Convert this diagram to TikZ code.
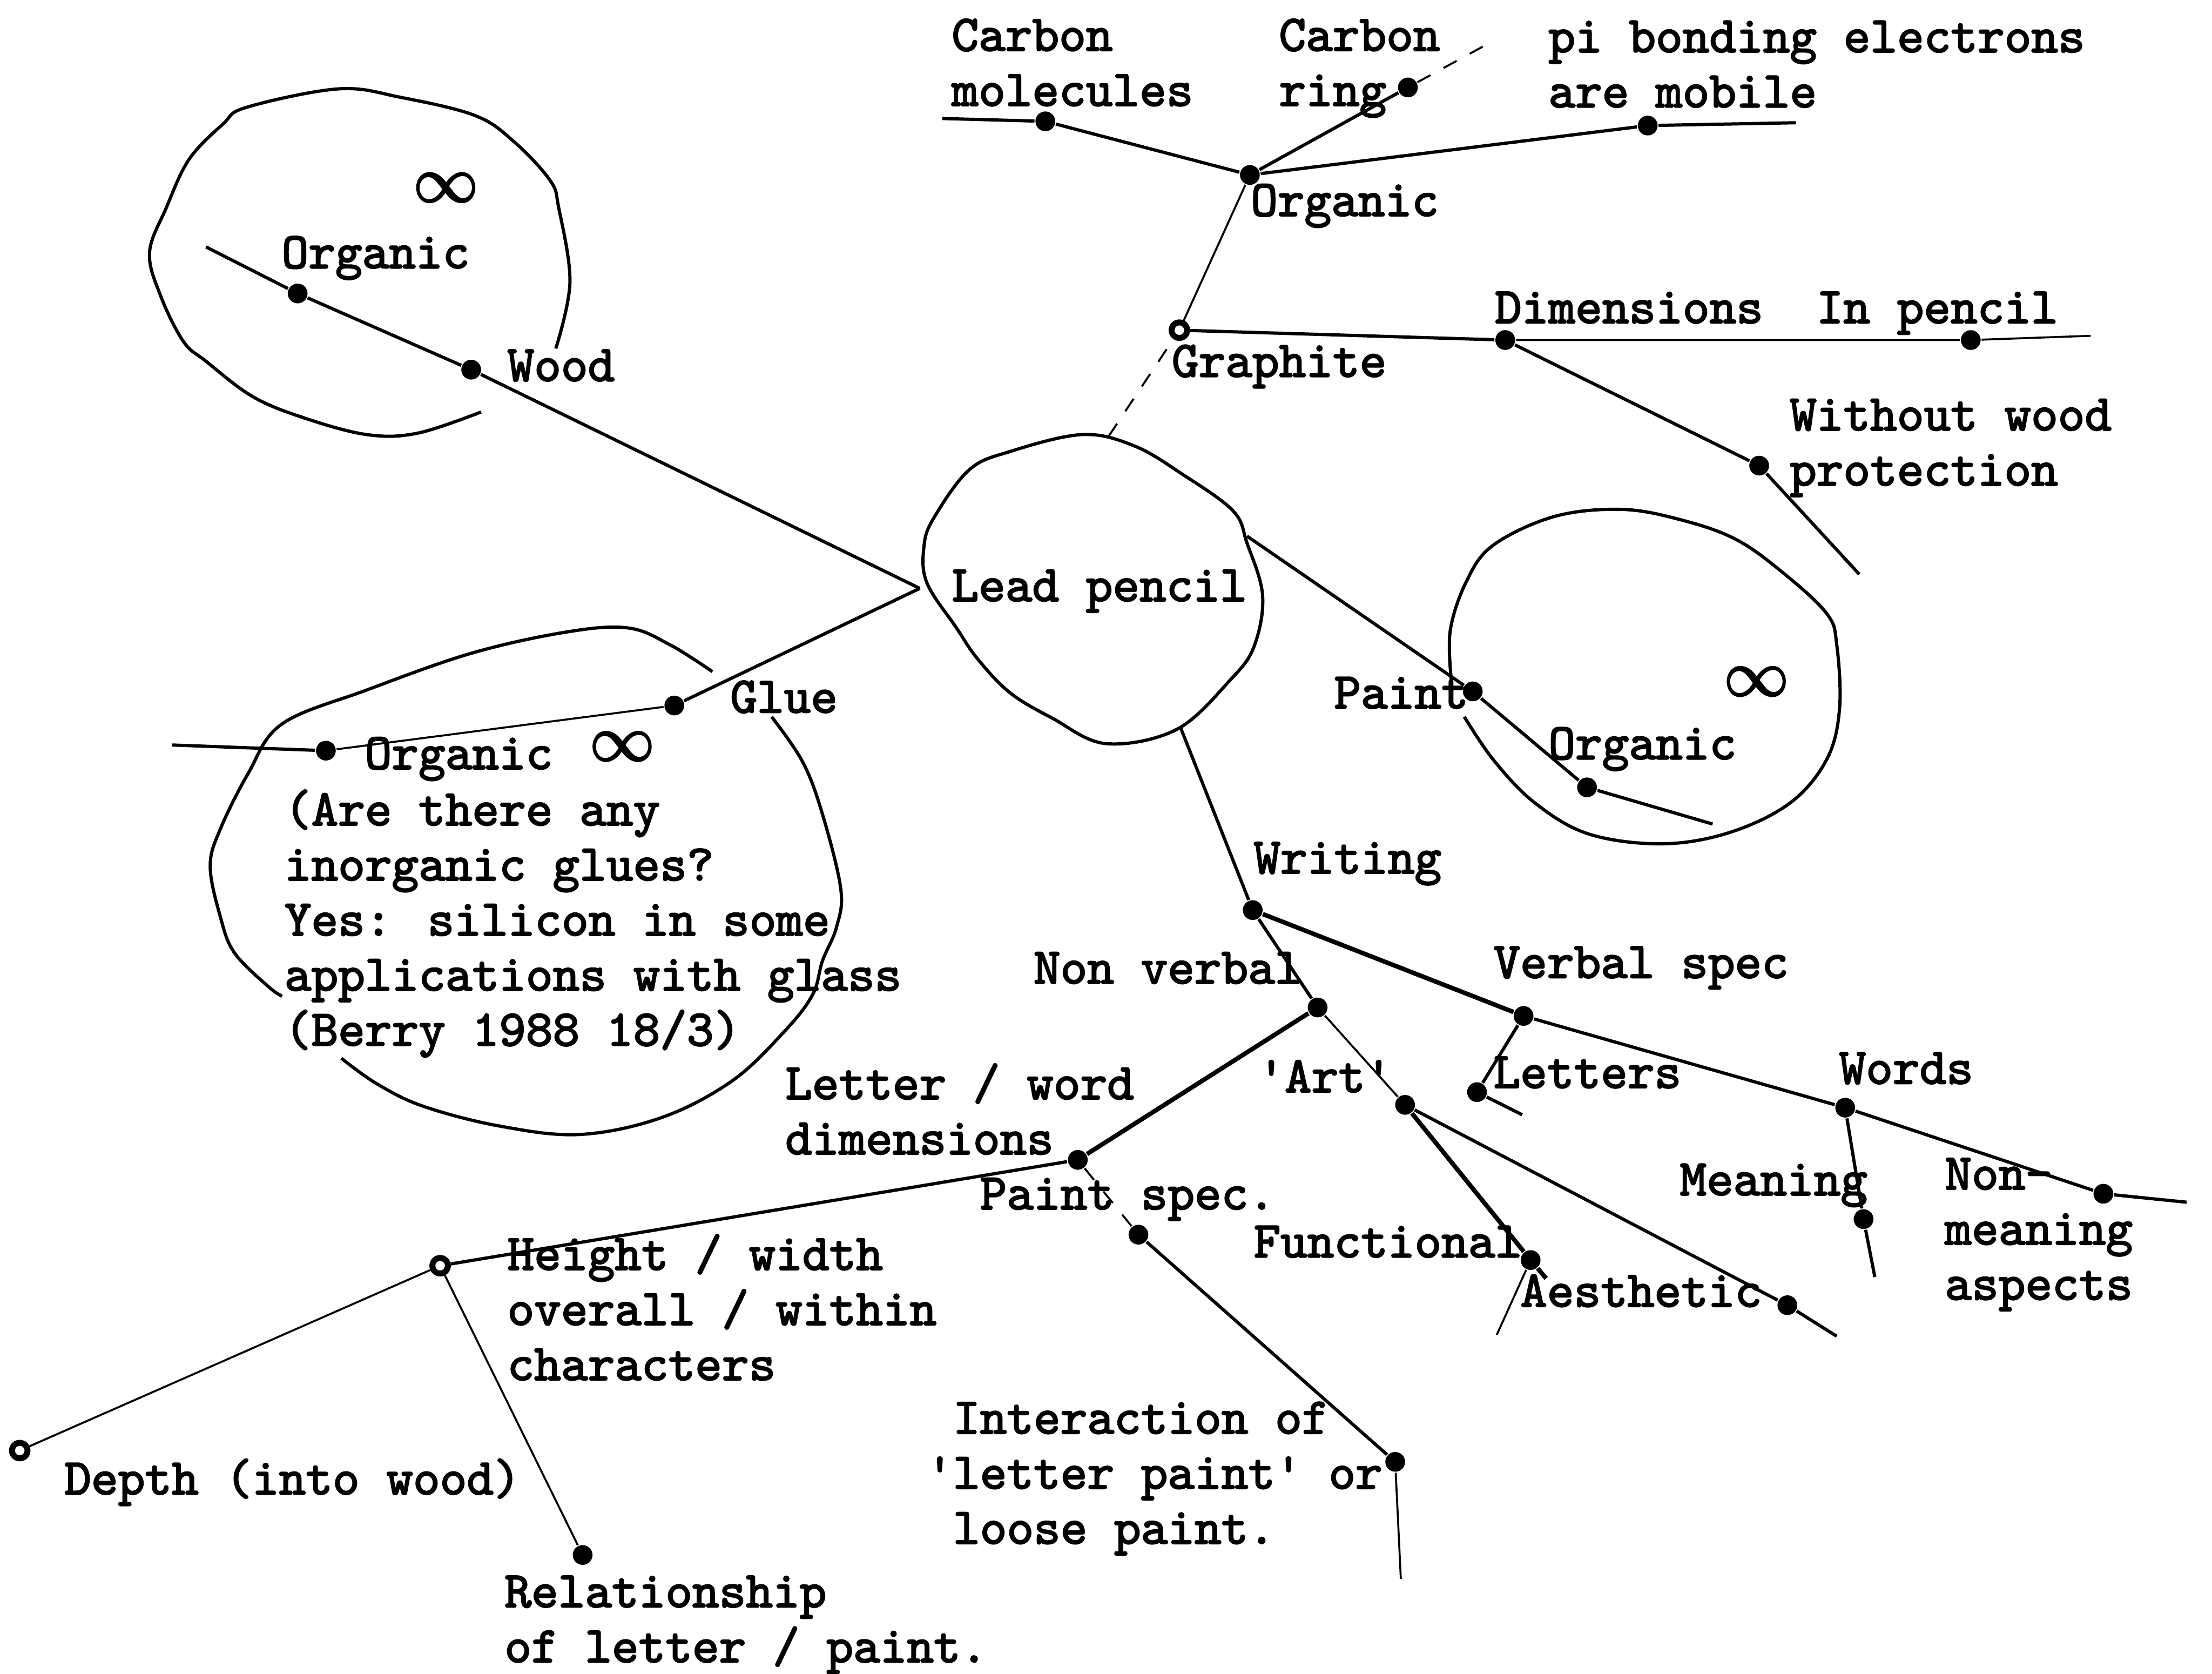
\documentclass[tikz,border=0pt]{standalone}
\usepackage{tikz}

\font\twf="[lmmono10-regular.otf]:embolden=2.6" at 10.3pt
\font\lemf="[latinmodern-math.otf]:embolden=3" at 13pt
\newcommand\twfont{\fontsize{10.3}{11.1}\selectfont\twf}

\begin{document}
\begin{tikzpicture}[x=0.01cm,y=-0.01cm,
  lbl/.style={anchor=base west,inner sep=0pt,align=left,font=\twfont},
  dot/.style={circle,fill,inner sep=0pt,minimum size=1.4mm},
  ring/.style={circle,draw,line width=1.2pt,fill=white,inner sep=0pt,minimum size=1.1mm},
  lemn/.style={inner sep=0pt,font=\lemf},
  link/.style={line width=0.65pt},
  faint/.style={line width=0.4pt},
  heavy/.style={line width=0.9pt},
  rim/.style={line width=0.65pt,line join=round}]
  \fill[white] (0,0) rectangle (1568,1186);
  \useasboundingbox (0,0) rectangle (1568,1186);

  % hand drawn rims
  \draw[rim] plot[smooth cycle,tension=0.6] coordinates {(767,308) (716,320) (687,333) (662,367)
    (655,387) (657,413) (678,445) (693,467) (716,491) (746,509) (784,527) (834,517) (872,482)
    (889,458) (895,422) (884,385) (874,362) (838,336) (804,316)};
  \draw[rim] plot[smooth,tension=0.6] coordinates {(394,247) (404,200) (396,147) (390,128) (365,101)
    (337,82) (284,69) (240,63) (175,76) (158,88) (134,113) (118,147) (106,179) (114,210) (130,242)
    (146,256) (179,281) (215,296) (260,308) (296,307) (341,292)};
  \draw[rim] plot[smooth,tension=0.6] coordinates {(1038,508) (1059,539) (1088,569) (1126,591)
    (1178,598) (1226,590) (1269,569) (1295,538) (1304,502) (1302,457) (1295,435) (1264,406)
    (1230,382) (1190,368) (1149,361) (1102,366) (1059,386) (1040,411) (1028,447) (1029,484)};
  \draw[rim] plot[smooth,tension=0.6] coordinates {(505,476) (475,457) (445,445) (401,448) (334,463)
    (260,489) (200,513) (176,548) (156,588) (149,614) (156,649) (166,675) (190,699) (200,706)};
  \draw[rim] plot[smooth,tension=0.6] coordinates {(547,508) (569,540) (583,577) (596,630) (593,657)
    (583,681) (576,705) (556,731) (519,766) (469,792) (411,804) (354,798) (300,784) (267,768) (242,750)};

  \node[lemn] (lemn1) at (316,133) {\char"221E};
  \node[lemn] (lemn2) at (1245,483) {\char"221E};
  \node[lemn] (lemn3) at (441,529) {\char"221E};

  % where the branches meet the pencil
  \coordinate (pw) at (652,417);
  \coordinate (pg) at (786,309);
  \coordinate (pp) at (884,380);
  \coordinate (pwr) at (837,516);

  % wood
  \coordinate (wtail) at (146,175);
  \node[dot] (worg) at (211,208) {};
  \node[dot] (wood) at (334,262) {};
  \draw[link] (wtail) -- (worg) -- (wood) -- (pw);

  % glue
  \node[dot] (glue) at (478,500) {};
  \node[dot] (gorg) at (231,532) {};
  \coordinate (gtail) at (122,528);
  \draw[link] (pw) -- (glue);
  \draw[faint] (glue) -- (gorg);
  \draw[link] (gorg) -- (gtail);

  % graphite
  \node[ring] (graph) at (836,234) {};
  \node[dot] (torg) at (886,124) {};
  \node[dot] (cmol) at (741,86) {};
  \coordinate (cmolend) at (668,84);
  \node[dot] (cring) at (998,62) {};
  \coordinate (cringend) at (1053,32);
  \node[dot] (pib) at (1168,89) {};
  \coordinate (pibend) at (1273,87);
  \node[dot] (dims) at (1067,241) {};
  \node[dot] (inpen) at (1397,241) {};
  \coordinate (inpenend) at (1482,238);
  \node[dot] (wowp) at (1247,330) {};
  \coordinate (wowpend) at (1318,407);
  \draw[faint,dashed] (pg) -- (graph);
  \draw[faint] (graph) -- (torg);
  \draw[link] (torg) -- (cmol) -- (cmolend);
  \draw[link] (torg) -- (cring);
  \draw[faint,dashed] (cring) -- (cringend);
  \draw[link] (torg) -- (pib) -- (pibend);
  \draw[link] (graph) -- (dims);
  \draw[faint] (dims) -- (inpen) -- (inpenend);
  \draw[link] (dims) -- (wowp) -- (wowpend);

  % paint
  \node[dot] (paint) at (1044,490) {};
  \node[dot] (porg) at (1125,558) {};
  \coordinate (porgend) at (1214,584);
  \draw[link] (pp) -- (paint) -- (porg) -- (porgend);

  % writing
  \node[dot] (wri) at (888,645) {};
  \node[dot] (nonv) at (934,714) {};
  \node[dot] (art) at (996,783) {};
  \node[dot] (func) at (1085,893) {};
  \coordinate (funcend) at (1096,906);
  \coordinate (funcdn) at (1061,946);
  \node[dot] (aest) at (1267,925) {};
  \coordinate (aestend) at (1302,947);
  \node[dot] (verb) at (1080,720) {};
  \node[dot] (words) at (1308,785) {};
  \node[dot] (nonm) at (1491,846) {};
  \coordinate (nonmend) at (1550,852);
  \node[dot] (lett) at (1047,774) {};
  \coordinate (lettend) at (1079,790);
  \node[dot] (mean) at (1321,864) {};
  \coordinate (meanend) at (1329,905);
  \node[dot] (lwd) at (764,822) {};
  \node[dot] (pspec) at (807,875) {};
  \node[dot] (inter) at (989,1036) {};
  \coordinate (interend) at (993,1119);
  \node[ring] (hw) at (312,897) {};
  \node[ring] (depth) at (14,1028) {};
  \node[dot] (rel) at (413,1102) {};
  \draw[link] (pwr) -- (wri) -- (nonv);
  \draw[faint] (nonv) -- (art);
  \draw[heavy] (art) -- (func) -- (funcend);
  \draw[faint] (func) -- (funcdn);
  \draw[link] (art) -- (aest) -- (aestend);
  \draw[heavy] (wri) -- (verb);
  \draw[link] (verb) -- (words) -- (nonm) -- (nonmend);
  \draw[link] (verb) -- (lett) -- (lettend);
  \draw[link] (words) -- (mean) -- (meanend);
  \draw[heavy] (nonv) -- (lwd);
  \draw[faint,dashed] (lwd) -- (pspec);
  \draw[link] (pspec) -- (inter);
  \draw[faint] (inter) -- (interend);
  \draw[link] (lwd) -- (hw);
  \draw[faint] (hw) -- (depth);
  \draw[faint] (hw) -- (rel);

  % labels (multi-line ones sit on their last line)
  \node[lbl] (lead) at (674,426) {Lead pencil};
  \node[lbl] (lworg) at (199,190) {Organic};
  \node[lbl] (lwood) at (359,270) {Wood};
  \node[lbl] (lglue) at (517,505) {Glue};
  \node[lbl] (lgorg) at (258,545) {Organic};
  \node[lbl] (lquery) at (201,741) {(Are there any\\inorganic glues?\\Yes: silicon in some\\applications with glass\\(Berry 1988 18/3)};
  \node[lbl] (lpaint) at (945,502) {Paint};
  \node[lbl] (lporg) at (1097,538) {Organic};
  \node[lbl] (lcmol) at (674,75) {Carbon\\molecules};
  \node[lbl] (lcring) at (906,75) {Carbon\\ring};
  \node[lbl] (lpib) at (1097,76) {pi bonding electrons\\are mobile};
  \node[lbl] (ltorg) at (886,153) {Organic};
  \node[lbl] (lgraph) at (830,267) {Graphite};
  \node[lbl] (ldims) at (1059,229) {Dimensions};
  \node[lbl] (linpen) at (1287,229) {In pencil};
  \node[lbl] (lwowp) at (1268,344) {Without wood\\protection};
  \node[lbl] (lwri) at (888,619) {Writing};
  \node[lbl] (lnonv) at (732,697) {Non verbal};
  \node[lbl] (lverb) at (1058,693) {Verbal spec};
  \node[lbl] (lart) at (891,774) {\textquotesingle Art\textquotesingle};
  \node[lbl] (llett) at (1058,771) {Letters};
  \node[lbl] (lwords) at (1303,768) {Words};
  \node[lbl] (lmean) at (1190,847) {Meaning};
  \node[lbl] (lnonm) at (1378,921) {Non-\\meaning\\aspects};
  \node[lbl] (lfunc) at (888,891) {Functional};
  \node[lbl] (laest) at (1077,926) {Aesthetic};
  \node[lbl] (lpspec) at (694,857) {Paint spec.};
  \node[lbl] (llwd) at (556,818) {Letter / word\\dimensions};
  \node[lbl] (lhw) at (359,978) {Height / width\\overall / within\\characters};
  \node[lbl] (ldepth) at (45,1059) {Depth (into wood)};
  \node[lbl] (lrel) at (357,1178) {Relationship\\of letter / paint.};
  \node[lbl] (linter) at (675,1094) {Interaction of\\\llap{\textquotesingle}letter paint\textquotesingle{} or\\loose paint.};
\end{tikzpicture}
\end{document}
